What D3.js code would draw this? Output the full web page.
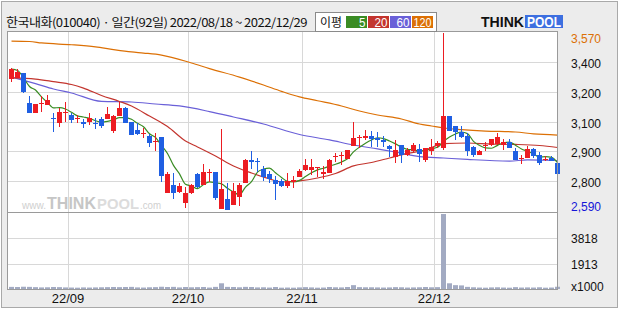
<!DOCTYPE html>
<html>
<head>
<meta charset="utf-8">
<script src="https://cdn.jsdelivr.net/npm/d3@7"></script>
<style>
body { margin: 0; background: #fff; }
svg { display: block; }
</style>
</head>
<body>
<div id="chart"></div>
<script>
const title = "한국내화(010040) · 일간(92일) 2022/08/18 ~ 2022/12/29"
const startDay = "2022-08-18", endDay = "2022-12-29"
const holidays = ["2022-09-09", "2022-09-12", "2022-10-03", "2022-10-10"]
const monthLabels = ["22/09", "22/10", "22/11", "22/12"]

const opens = [3315, 3320, 3350, 3180, 3125, 3175, 3170, 3100, 3070, 3125,
    3115, 3095, 3075, 3075, 3070, 3095, 3095, 3030, 3110, 3155,
    3075, 3035, 3010, 3000, 2965, 2995, 2685, 2730, 2690, 2630,
    2685, 2790, 2730, 2795, 2800, 2595, 2650, 2620, 2660, 2740,
    2865, 2860, 2815, 2790, 2755, 2750, 2725, 2745, 2775, 2810,
    2810, 2825, 2790, 2795, 2885, 2890, 2870, 2945, 2990, 2990,
    3000, 2990, 2980, 2945, 2885, 2950, 2895, 2915, 2930, 2865,
    2915, 2945, 2935, 3110, 3055, 3020, 3000, 2940, 2895, 2945,
    2950, 2955, 2950, 2965, 2915, 2875, 2880, 2930, 2895, 2870,
    2880, 2850]
const highs = [3375, 3370, 3350, 3220, 3175, 3220, 3225, 3125, 3155, 3190,
    3125, 3115, 3095, 3125, 3100, 3105, 3160, 3115, 3190, 3160,
    3080, 3070, 3045, 3010, 3015, 2995, 2800, 2795, 2740, 2715,
    2735, 2795, 2845, 2815, 2800, 3040, 2740, 2740, 2740, 2870,
    2915, 2880, 2835, 2805, 2780, 2760, 2795, 2780, 2815, 2870,
    2870, 2830, 2835, 2870, 2905, 2910, 2920, 3075, 3005, 3035,
    3030, 3020, 3000, 2950, 2980, 2950, 2935, 2960, 2955, 2935,
    2985, 2970, 3570, 3110, 3055, 3055, 3015, 2945, 2920, 2965,
    2985, 3015, 2985, 2985, 2935, 2895, 2945, 2935, 2910, 2890,
    2890, 2860]
const lows = [3300, 3320, 3240, 3125, 3125, 3135, 3170, 3020, 3050, 3075,
    3070, 3070, 3045, 3060, 3040, 3045, 3095, 3015, 3110, 3070,
    3005, 3005, 2990, 2940, 2915, 2745, 2685, 2650, 2685, 2600,
    2680, 2710, 2730, 2745, 2645, 2595, 2590, 2620, 2610, 2740,
    2815, 2800, 2750, 2740, 2645, 2715, 2710, 2710, 2775, 2805,
    2785, 2775, 2760, 2795, 2855, 2840, 2870, 2945, 2935, 2980,
    2940, 2940, 2940, 2885, 2850, 2850, 2890, 2910, 2855, 2855,
    2895, 2935, 2920, 3025, 2980, 2990, 2890, 2885, 2895, 2915,
    2945, 2950, 2920, 2935, 2865, 2845, 2880, 2880, 2840, 2860,
    2860, 2695]
const closes = [3370, 3355, 3245, 3125, 3175, 3180, 3200, 3095, 3135, 3135,
    3090, 3100, 3065, 3100, 3065, 3055, 3120, 3110, 3155, 3070,
    3005, 3010, 3015, 2960, 2970, 2780, 2790, 2685, 2725, 2685,
    2730, 2715, 2800, 2800, 2655, 2705, 2590, 2695, 2730, 2865,
    2855, 2855, 2775, 2760, 2735, 2725, 2750, 2755, 2805, 2840,
    2830, 2830, 2800, 2865, 2890, 2895, 2920, 2990, 2995, 3000,
    2985, 2980, 2965, 2930, 2920, 2895, 2920, 2950, 2900, 2935,
    2940, 2960, 3110, 3025, 3020, 2995, 2915, 2895, 2915, 2950,
    2985, 2995, 2965, 2935, 2865, 2880, 2930, 2890, 2850, 2875,
    2860, 2790]
// volume in thousand shares
const volumes = [160, 150, 170, 160, 140, 120, 130, 150, 140, 120,
    110, 100, 120, 110, 120, 130, 140, 150, 140, 150,
    160, 120, 110, 130, 140, 170, 150, 160, 120, 150,
    130, 140, 150, 110, 160, 430, 160, 150, 130, 160,
    150, 120, 130, 110, 150, 100, 110, 100, 120, 140,
    120, 100, 110, 150, 130, 120, 150, 290, 140, 130,
    130, 120, 110, 120, 140, 130, 110, 120, 130, 150,
    130, 140, 5650, 430, 290, 270, 160, 130, 110, 100,
    120, 130, 110, 100, 140, 110, 120, 110, 130, 100,
    110, 170]

// moving averages: [day index, value]
const ma20 = [[0, 3321], [4, 3315], [7, 3301], [10, 3285], [12, 3265], [15, 3224], [18, 3191], [20, 3166],
    [23, 3110], [26, 3052], [29, 2972], [31, 2939], [34, 2889], [37, 2834], [40, 2795], [43, 2762],
    [45, 2745], [48, 2751], [51, 2767], [54, 2792], [57, 2834], [60, 2853], [63, 2878], [66, 2903],
    [69, 2922], [72, 2958], [76, 2961], [80, 2955], [84, 2953], [88, 2947], [91, 2936]]
const ma60 = [[0, 3326], [4, 3290], [7, 3260], [10, 3238], [15, 3191], [20, 3188], [24, 3177], [28, 3166],
    [33, 3135], [37, 3105], [42, 3066], [48, 3008], [53, 2978], [57, 2950], [61, 2928], [64, 2911],
    [68, 2886], [72, 2878], [76, 2870], [83, 2861], [86, 2867], [91, 2864]]
const ma120 = [[0, 3525], [3, 3523], [5, 3515], [10, 3505], [14, 3493], [17, 3478], [20, 3465], [22, 3459],
    [25, 3448], [30, 3404], [33, 3373], [38, 3326], [42, 3282], [45, 3247], [48, 3216], [51, 3195],
    [55, 3166], [58, 3138], [61, 3116], [65, 3094], [68, 3066], [70, 3055], [72, 3044], [75, 3035],
    [79, 3027], [84, 3022], [87, 3011], [91, 3005]]

const maPeriods = ["5", "20", "60", "120"]
const maColors = ["#3a8c24", "#c3352e", "#6a60d8", "#dc7005"]

const priceGrid = [3407, 3243, 3080, 2917, 2753]
const priceGridLabels = ["3,400", "3,200", "3,100", "2,900", "2,800"]
const volGrid = [1913, 3818]
const volMax = 5727

const upColor = "#ec1c22", downColor = "#1f5fe2"

// trading days
const parse = d3.timeParse("%Y-%m-%d"), fmt = d3.timeFormat("%Y-%m-%d")
let dates = d3.timeDay.range(parse(startDay), d3.timeDay.offset(parse(endDay), 1))
    .filter(d => d.getDay() != 0 && d.getDay() != 6 && !holidays.includes(fmt(d)))
    .map(fmt)

let candles = dates.map((d, i) => ({date: d, o: opens[i], h: highs[i], l: lows[i], c: closes[i], v: volumes[i]}))

let ma5 = closes.map((c, i) => [i, d3.mean(closes.slice(Math.max(0, i - 4), i + 1))])

let width = 620,
    height = 310

var svg = d3.select("div#chart")
    .append("svg")
    .attr("width", width)
    .attr("height", height)
    .style("font-family", "'Liberation Sans', Arial, sans-serif")

svg.append("rect")
    .attr("x", 1.5).attr("y", 1.5).attr("width", 616).attr("height", 306)
    .attr("fill", "#ececec").attr("stroke", "#a9a9a9")

let xs = d3.scaleBand().domain(dates).range([8, 560])
let y = d3.scaleLinear().domain([2590, 3570]).range([210, 33])
let yv = d3.scaleLinear().domain([0, volMax]).range([289, 213])

// plot area
svg.append("rect")
    .attr("x", 7.5).attr("y", 31.5).attr("width", 550).attr("height", 257.5)
    .attr("fill", "#fff")

let grid = svg.append("g").attr("stroke", "#d8d8d8").attr("shape-rendering", "crispEdges")
grid.selectAll(".hp")
    .data(priceGrid)
    .join("line")
    .attr("x1", 8).attr("x2", 557)
    .attr("y1", d => Math.round(y(d)) + 0.5).attr("y2", d => Math.round(y(d)) + 0.5)
grid.selectAll(".hv")
    .data(volGrid)
    .join("line")
    .attr("class", "hv")
    .attr("x1", 8).attr("x2", 557)
    .attr("y1", d => Math.round(yv(d)) + 0.5).attr("y2", d => Math.round(yv(d)) + 0.5)

let monthStarts = monthLabels.map(m => dates.find(d => d.slice(2, 4) + "/" + d.slice(5, 7) == m))
grid.selectAll(".vl")
    .data(monthStarts)
    .join("line")
    .attr("class", "vl")
    .attr("x1", d => xs(d) + 0.5).attr("x2", d => xs(d) + 0.5)
    .attr("y1", 32).attr("y2", 289)

// watermark, one text per part
const wmParts = [
    {t: "www.", x: 22, w: 24, size: 10, bold: false, fill: "#cfcfcf"},
    {t: "THINK", x: 47, w: 49, size: 16, bold: true, fill: "#c6c6c6"},
    {t: "POOL", x: 97, w: 42, size: 15, bold: true, fill: "#dcdcdc"},
    {t: ".com", x: 140, w: 21, size: 10, bold: false, fill: "#cfcfcf"}
]
svg.append("g")
    .selectAll("text")
    .data(wmParts)
    .join("text")
    .attr("x", d => d.x).attr("y", 209)
    .attr("font-size", d => d.size)
    .attr("font-weight", d => d.bold ? "bold" : "normal")
    .attr("fill", d => d.fill)
    .attr("textLength", d => d.w).attr("lengthAdjust", "spacingAndGlyphs")
    .text(d => d.t)

// volume bars
svg.append("g")
    .selectAll("rect")
    .data(candles)
    .join("rect")
    .attr("x", d => xs(d.date) + 1)
    .attr("width", 5)
    .attr("y", d => yv(d.v))
    .attr("height", d => yv(0) - yv(d.v))
    .attr("fill", "#a2aac2")

// moving averages
let maLine = d3.line()
    .x(d => xs(dates[d[0]]) + 3.5)
    .y(d => y(d[1]))
    .curve(d3.curveMonotoneX)

svg.append("g")
    .attr("fill", "none")
    .selectAll("path")
    .data([ma120, ma60, ma20, ma5])
    .join("path")
    .attr("d", maLine)
    .attr("stroke", (d, i) => maColors[3 - i])
    .attr("stroke-width", 1.2)

// candles
let cg = svg.append("g").attr("shape-rendering", "crispEdges")
cg.selectAll("line")
    .data(candles)
    .join("line")
    .attr("x1", d => xs(d.date) + 3.5).attr("x2", d => xs(d.date) + 3.5)
    .attr("y1", d => y(d.h)).attr("y2", d => y(d.l))
    .attr("stroke", d => d.c >= d.o ? upColor : downColor)
cg.selectAll("rect")
    .data(candles)
    .join("rect")
    .attr("x", d => xs(d.date) + 1)
    .attr("width", 5)
    .attr("y", d => y(Math.max(d.o, d.c)))
    .attr("height", d => Math.max(1, Math.abs(y(d.o) - y(d.c))))
    .attr("fill", d => d.c >= d.o ? upColor : downColor)

// borders
let border = svg.append("g").attr("fill", "none").attr("stroke", "#9a9a9a").attr("shape-rendering", "crispEdges")
border.append("rect").attr("x", 7.5).attr("y", 31.5).attr("width", 550).attr("height", 257.5)
border.append("line").attr("x1", 7).attr("x2", 558).attr("y1", 212.5).attr("y2", 212.5)

// right axis
let axis = svg.append("g").attr("font-size", 12).attr("dominant-baseline", "central")
axis.selectAll(".pl")
    .data(priceGrid)
    .join("text")
    .attr("class", "pl")
    .attr("x", 571)
    .attr("y", d => y(d) + 2)
    .attr("fill", "#111")
    .text((d, i) => priceGridLabels[i])
let priceFmt = d3.format(",")
axis.append("text").attr("x", 571).attr("y", y(d3.max(highs)) + 6).attr("fill", "#dc7005").text(priceFmt(d3.max(highs)))
axis.append("text").attr("x", 571).attr("y", y(d3.min(lows)) - 3).attr("fill", "#1515d8").text(priceFmt(d3.min(lows)))
axis.selectAll(".vlab")
    .data(volGrid)
    .join("text")
    .attr("class", "vlab")
    .attr("x", 571)
    .attr("y", d => yv(d) + 1)
    .attr("fill", "#111")
    .text(d => d)
axis.append("text").attr("x", 571).attr("y", 287).attr("fill", "#111").text("x1000")

// month labels
svg.append("g")
    .selectAll("text")
    .data(monthStarts)
    .join("text")
    .attr("x", d => xs(d))
    .attr("y", 303)
    .attr("text-anchor", "middle")
    .attr("font-size", 13)
    .attr("fill", "#111")
    .text((d, i) => monthLabels[i])

// title
svg.append("text")
    .attr("x", 6).attr("y", 27)
    .attr("font-family", "'Noto Sans CJK KR', sans-serif")
    .attr("font-size", 12)
    .attr("letter-spacing", -0.5)
    .attr("textLength", 301).attr("lengthAdjust", "spacingAndGlyphs")
    .attr("fill", "#111")
    .text(title)

// legend
let lg = svg.append("g")
lg.append("rect").attr("x", 315.5).attr("y", 12.5).attr("width", 121).attr("height", 19)
    .attr("fill", "#fff").attr("stroke", "#8a8a8a")
lg.append("text").attr("x", 320).attr("y", 27)
    .attr("font-family", "'Noto Sans CJK KR', sans-serif").attr("font-size", 12).attr("fill", "#111")
    .attr("textLength", 22).attr("lengthAdjust", "spacingAndGlyphs")
    .text("이평")
let items = lg.selectAll("g.item")
    .data(maPeriods)
    .join("g")
    .attr("class", "item")
    .attr("transform", (d, i) => "translate(" + (346 + i * 22) + ",16)")
items.append("rect").attr("width", 21).attr("height", 12).attr("fill", (d, i) => maColors[i])
items.append("text").attr("x", 19.5).attr("y", 11)
    .attr("text-anchor", "end").attr("font-size", 12).attr("fill", "#fff")
    .attr("textLength", d => Math.min(18, d.length * 6.5)).attr("lengthAdjust", "spacingAndGlyphs")
    .text(d => d)

// logo
let logo = svg.append("g")
logo.append("text").attr("x", 481).attr("y", 27)
    .attr("font-weight", "bold").attr("fill", "#111").attr("font-size", 15)
    .attr("textLength", 43).attr("lengthAdjust", "spacingAndGlyphs")
    .text("THINK")
logo.append("rect").attr("x", 525).attr("y", 15).attr("width", 38).attr("height", 13).attr("fill", "#3d6fe0")
logo.append("text").attr("x", 527).attr("y", 27)
    .attr("font-weight", "bold").attr("font-size", 14).attr("fill", "#fff")
    .attr("textLength", 34).attr("lengthAdjust", "spacingAndGlyphs")
    .text("POOL")
</script>
</body>
</html>
